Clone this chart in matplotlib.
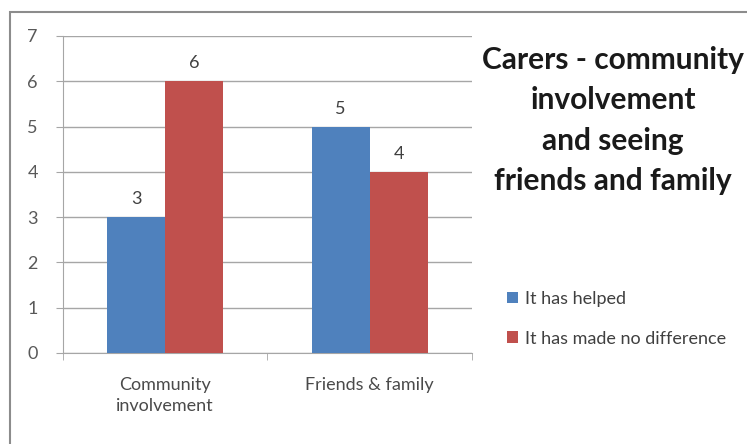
import matplotlib
matplotlib.use("Agg")
import matplotlib.pyplot as plt
from matplotlib.patches import Rectangle
import numpy as np

plt.rcParams["font.family"] = ["Lato", "DejaVu Sans"]

categories = ["Community\ninvolvement", "Friends & family"]
series_names = ["It has helped", "It has made no difference"]
helped = [3, 5]
no_difference = [6, 4]
colors = ["#4F81BD", "#C0504D"]
title = "Carers - community\ninvolvement\nand seeing\nfriends and family"

fig = plt.figure(figsize=(7.47, 4.44), dpi=100)
fig.patch.set_facecolor("white")

# outer chart frame (runs off the right and bottom edges)
fig.patches.append(Rectangle((0.0134, -0.05), 1.1, 1.023, transform=fig.transFigure,
                             fill=False, edgecolor="#8c8c8c", lw=1.5))

ax = fig.add_axes([0.0843, 0.205, 0.5475, 0.714])
x = np.arange(len(categories))
w = 0.284
for i, (vals, name) in enumerate([(helped, series_names[0]), (no_difference, series_names[1])]):
    bars = ax.bar(x + (i - 0.5) * w, vals, w, color=colors[i], label=name, zorder=3)
    for b, v in zip(bars, vals):
        ax.text(b.get_x() + b.get_width() / 2, v + 0.22, str(v), ha="center", va="bottom",
                fontsize=13, color="#404040")

ax.set_xlim(-0.5, 1.5)
ax.set_ylim(0, 7)
ax.set_yticks(range(0, 8))
ax.yaxis.grid(True, color="#a6a6a6", lw=1, zorder=0)
ax.tick_params(axis="y", length=5, color="#a6a6a6", labelsize=13, labelcolor="#595959", pad=13)
ax.set_xticks(x)
ax.set_xticklabels(categories, fontsize=13, color="#4a4a4a", linespacing=1.45)
ax.tick_params(axis="x", length=0, pad=17)
ax.set_xticks([-0.5, 0.5, 1.5], minor=True)
ax.tick_params(axis="x", which="minor", length=5, color="#a6a6a6")
for s in ["top", "right"]:
    ax.spines[s].set_visible(False)
ax.spines["left"].set_color("#a6a6a6")
ax.spines["bottom"].set_color("#a6a6a6")

fig.text(0.821, 0.896, title, ha="center", va="top", fontsize=21.5, fontweight="bold",
         color="#1a1a1a", linespacing=1.53)

handles, labels = ax.get_legend_handles_labels()
fig.legend(handles, labels, loc="upper left", bbox_to_anchor=(0.657, 0.381), frameon=False,
           fontsize=13, handlelength=0.6, handleheight=0.6, handletextpad=0.4,
           labelspacing=1.3, labelcolor="#404040")

fig.savefig("out.png", dpi=100)
